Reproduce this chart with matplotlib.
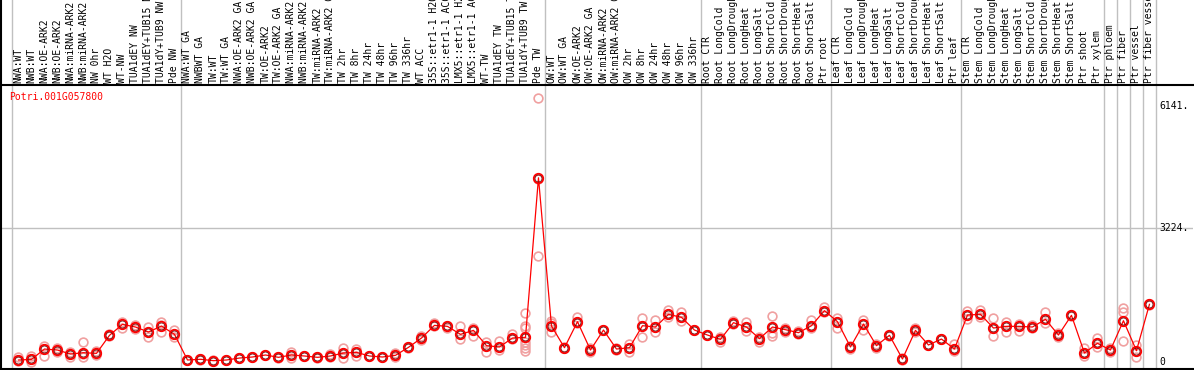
import matplotlib
matplotlib.use("Agg")
import matplotlib.pyplot as plt

# sample labels, grouped as in the header
group_labels = [
    ["NWA:WT", "NWB:WT", "NWA:OE-ARK2", "NWB:OE-ARK2", "NWA:miRNA-ARK2", "NWB:miRNA-ARK2",
     "NW 0hr", "WT H2O", "WT-NW", "TUA1dEY NW", "TUA1dEY+TUB15 NW", "TUA1dY+TUB9 NW", "Pde NW"],
    ["NWA:WT GA", "NWBWT GA", "TW:WT", "TW:WT GA", "NWA:OE-ARK2 GA", "NWB:OE-ARK2 GA",
     "TW:OE-ARK2", "TW:OE-ARK2 GA", "NWA:miRNA-ARK2 GA", "NWB:miRNA-ARK2 GA", "TW:miRNA-ARK2",
     "TW:miRNA-ARK2 GA", "TW 2hr", "TW 8hr", "TW 24hr", "TW 48hr", "TW 96hr", "TW 336hr",
     "WT ACC", "35S::etr1-1 H2O", "35S::etr1-1 ACC", "LMX5::etr1-1 H2O", "LMX5::etr1-1 ACC",
     "WT-TW", "TUA1dEY TW", "TUA1dEY+TUB15 TW", "TUA1dY+TUB9 TW", "Pde TW"],
    ["OW:WT", "OW:WT GA", "OW:OE-ARK2", "OW:OE-ARK2 GA", "OW:miRNA-ARK2", "OW:miRNA-ARK2 GA",
     "OW 2hr", "OW 8hr", "OW 24hr", "OW 48hr", "OW 96hr", "OW 336hr"],
    ["Root CTR", "Root LongCold", "Root LongDrought", "Root LongHeat", "Root LongSalt",
     "Root ShortCold", "Root ShortDrought", "Root ShortHeat", "Root ShortSalt", "Ptr root"],
    ["Leaf CTR", "Leaf LongCold", "Leaf LongDrought", "Leaf LongHeat", "Leaf LongSalt",
     "Leaf ShortCold", "Leaf ShortDrought", "Leaf ShortHeat", "Leaf ShortSalt", "Ptr leaf"],
    ["Stem CTR", "Stem LongCold", "Stem LongDrought", "Stem LongHeat", "Stem LongSalt",
     "Stem ShortCold", "Stem ShortDrought", "Stem ShortHeat", "Stem ShortSalt", "Ptr shoot",
     "Ptr xylem"],
    ["Ptr phloem"], ["Ptr fiber"], ["Ptr vessel"], ["Ptr fiber vessel"],
]

means = [
    52, 68, 316, 292, 196, 228, 212, 645, 908, 844, 724, 868, 668,
    53, 70, 37, 53, 100, 125, 173, 117, 173, 149, 117, 149, 220, 236, 149, 125, 165, 357,
    580, 884, 860, 668, 764, 397, 365, 580, 596, 4424,
    868, 348, 972, 292, 772, 316, 348, 876, 844, 1148, 1076, 772,
    652, 548, 948, 844, 564, 844, 780, 708, 876, 1236,
    972, 365, 916, 397, 645, 77, 764, 413, 556, 316,
    1132, 1148, 820, 860, 860, 844, 1028, 652, 1124, 220, 453,
    292, 996, 276, 1388,
]

replicates = [
    [132, 52, 36], [148, 68, 12], [396, 316, 156], [332, 292, 252], [236, 196, 132],
    [484, 196, 124], [268, 212, 172], [668, 644, 620], [972, 908, 828], [892, 844, 788],
    [844, 724, 596], [956, 892, 732], [772, 668, 612],
    [60, 52, 44], [76, 68, 60], [44, 36, 24], [60, 52, 44], [108, 100, 92], [132, 124, 116],
    [180, 172, 164], [124, 116, 108], [252, 172, 108], [156, 148, 140], [124, 116, 108],
    [188, 148, 116], [332, 220, 92], [308, 236, 156], [156, 148, 140], [132, 124, 116],
    [212, 164, 116], [372, 356, 340], [620, 580, 540], [940, 884, 868], [868, 860, 812],
    [868, 668, 564], [812, 764, 636], [492, 396, 236], [508, 364, 284], [684, 580, 564],
    [1172, 876, 812, 596, 492, 412, 348, 268], [6328, 4400, 2547],
    [996, 940, 868, 716], [356, 348, 340], [1092, 972, 932], [332, 292, 252], [780, 772, 764],
    [316, 292, 340], [436, 348, 252], [1052, 876, 612], [1004, 844, 716], [1252, 1148, 1092],
    [1212, 1076, 988], [780, 772, 764],
    [660, 652, 644], [612, 548, 492], [988, 948, 908], [956, 844, 748], [612, 564, 492],
    [1116, 844, 692, 636], [828, 780, 732], [748, 708, 676], [1012, 876, 812], [1332, 1236, 1196],
    [1068, 972, 828], [364, 316, 380], [1012, 916, 772], [428, 396, 332], [652, 644, 636],
    [76, 44, 92], [812, 764, 716], [420, 412, 404], [564, 556, 548], [428, 316, 268],
    [1228, 1132, 1036], [1252, 1148, 1092], [1068, 820, 636], [956, 860, 716], [908, 860, 756],
    [892, 844, 812], [1196, 1028, 948], [692, 652, 604], [1132, 1124, 1116], [348, 220, 148],
    [588, 452, 372],
    [332, 292, 252], [1292, 1212, 996, 508], [412, 276, 124], [1396, 1388, 1380],
]

gene = "Potri.001G057800"
ytick_vals = [6141, 3224, 0]
ytick_text = ["6141.", "3224.", "0"]

labels = [l for g in group_labels for l in g]
x = list(range(len(labels)))
bounds = [-0.5]
for g in group_labels:
    bounds.append(bounds[-1] + len(g))

W, H = 1194, 370
fig = plt.figure(figsize=(W / 100, H / 100), dpi=100)
mono = "DejaVu Sans Mono"
grey = "#c0c0c0"

# plot area: pixel x 1..1193, y 85..369
ax = fig.add_axes([1 / W, 1 / H, 1192 / W, 284 / H])
head = fig.add_axes([1 / W, 285 / H, 1192 / W, 85 / H], sharex=ax)

ax.set_xlim(-1.346, 90.35)
ax.set_ylim(-163, 6650)
for a in (ax, head):
    a.set_xticks([])
    a.set_yticks([])
    a.spines["top"].set_visible(False)
    a.spines["right"].set_visible(False)
    a.spines["left"].set_linewidth(1.5)
    a.spines["bottom"].set_linewidth(1.5)
    for b in bounds:
        a.axvline(b, color=grey, lw=1.0, zorder=0)
head.set_ylim(0, 1)

ax.axhline(3224, color=grey, lw=1.0, zorder=0)

for xi, reps in zip(x, replicates):
    ax.plot([xi] * len(reps), reps, "o", mfc="none", mec="#f0a0a0", ms=6.3, mew=1.2, zorder=2)
ax.plot(x, means, color="red", lw=0.9, zorder=3)
ax.plot(x, means, "o", mfc="none", mec="red", ms=6.8, mew=1.3, zorder=4)
ax.plot(x, means, "o", mfc="none", mec="#5a0000", ms=5.0, mew=0.5, zorder=5)

ax.text(-0.7, 6360, gene, color="red", family=mono, fontsize=7, va="center", ha="left")
for v, t in zip(ytick_vals, ytick_text):
    ax.text(87.8, v, t, family=mono, fontsize=7, va="center", ha="left")

for xi, lab in zip(x, labels):
    head.text(xi, 0.02, lab, rotation=90, family=mono, fontsize=7, ha="center", va="bottom")

fig.savefig("out.png", dpi=100)
